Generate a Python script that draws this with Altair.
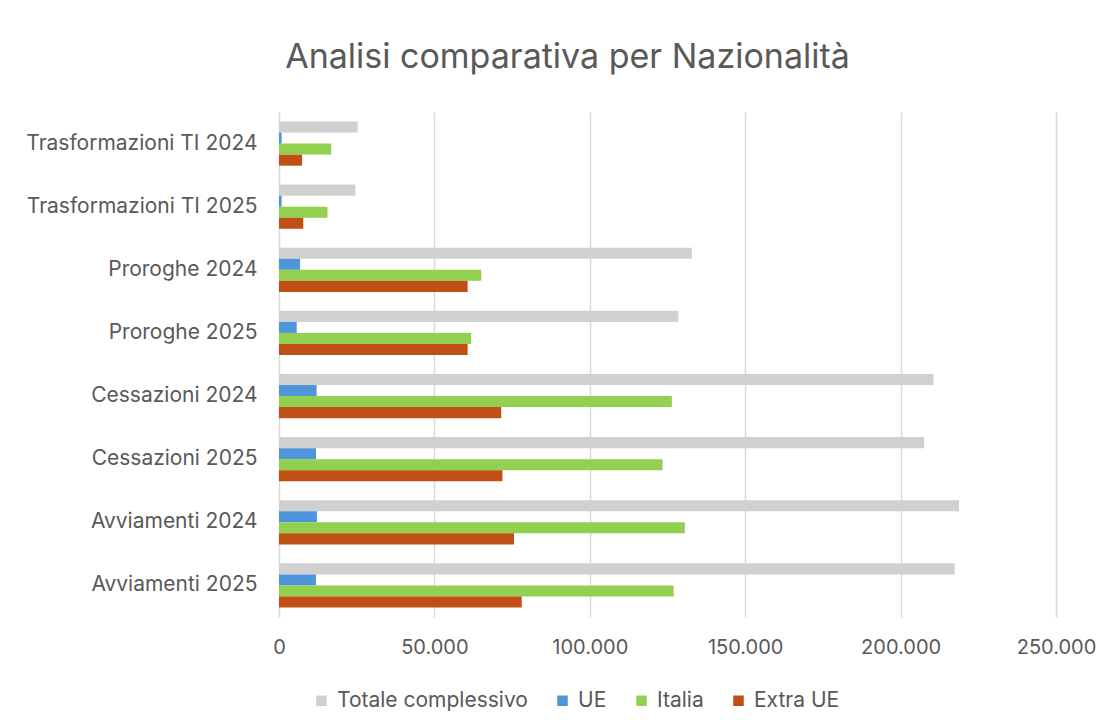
import altair as alt
import pandas as pd

categories = [
    "Trasformazioni TI 2024",
    "Trasformazioni TI 2025",
    "Proroghe 2024",
    "Proroghe 2025",
    "Cessazioni 2024",
    "Cessazioni 2025",
    "Avviamenti 2024",
    "Avviamenti 2025",
]
series = ["Totale complessivo", "UE", "Italia", "Extra UE"]
colors = ["#D0D0D0", "#4E95D9", "#92D050", "#C04F15"]

totale = [25300, 24600, 132800, 128500, 210600, 207600, 218800, 217400]
ue = [850, 850, 6800, 5700, 12100, 11900, 12200, 11900]
italia = [16800, 15600, 65100, 61800, 126400, 123400, 130600, 127000]
extra_ue = [7400, 7800, 60700, 60700, 71500, 71900, 75600, 78100]

values = {"Totale complessivo": totale, "UE": ue, "Italia": italia, "Extra UE": extra_ue}
rows = []
for s_i, s in enumerate(series):
    for c, v in zip(categories, values[s]):
        rows.append({"Categoria": c, "Serie": s, "Valore": v, "ordine": s_i})
df = pd.DataFrame(rows)

FONT = "Inter"
TXT = "#595959"

chart = (
    alt.Chart(df)
    .mark_bar()
    .encode(
        y=alt.Y(
            "Categoria:N",
            sort=categories,
            scale=alt.Scale(paddingInner=0.3, paddingOuter=0.15),
            axis=alt.Axis(
                title=None, ticks=False, domain=False, labelPadding=22,
                labelFontSize=21, labelColor=TXT, labelFont=FONT, labelLimit=400,
                minExtent=266, maxExtent=266,
            ),
        ),
        yOffset=alt.YOffset("Serie:N", sort=series, scale=alt.Scale(paddingInner=0, paddingOuter=0)),
        x=alt.X(
            "Valore:Q",
            scale=alt.Scale(domain=[0, 250000], nice=False),
            axis=alt.Axis(
                title=None, ticks=False, domain=False, values=[0, 50000, 100000, 150000, 200000, 250000],
                labelExpr="replace(format(datum.value, ','), ',', '.')",
                labelFontSize=20, labelColor=TXT, labelFont=FONT, labelPadding=20,
                labelFlush=False,
                grid=True, gridColor="#D9D9D9", gridWidth=1.5,
            ),
        ),
        color=alt.Color(
            "Serie:N",
            sort=series,
            scale=alt.Scale(domain=series, range=colors),
            legend=alt.Legend(
                title=None, orient="none", direction="horizontal",
                legendX=32, legendY=578,
                symbolType="square", symbolSize=110, symbolStrokeWidth=0,
                labelFontSize=21, labelColor=TXT, labelFont=FONT, labelLimit=400,
                columnPadding=24, labelOffset=5,
            ),
        ),
    )
    .properties(
        width=777,
        height=505,
        padding={"top": 33, "left": 5, "right": 2, "bottom": 2},
        title=alt.TitleParams(
            "Analisi comparativa per Nazionalità",
            anchor="middle", frame="group", dx=-100, offset=37,
            fontSize=34, font=FONT, color=TXT, fontWeight="normal",
        ),
    )
    .configure(background="white")
    .configure_view(strokeOpacity=0)
)

chart.save("out.html", embed_options={"renderer": "svg", "actions": False})
